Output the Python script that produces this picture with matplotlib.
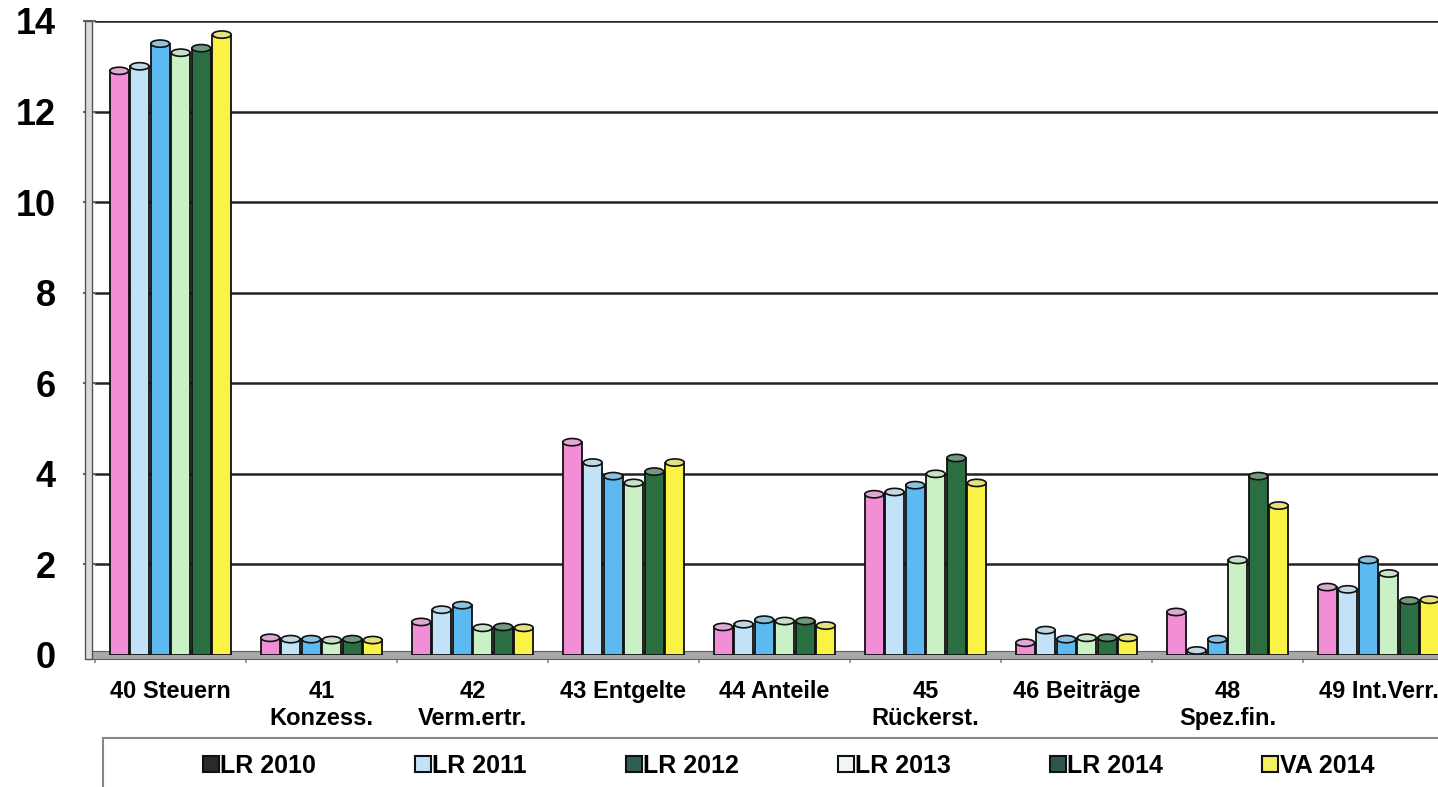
import matplotlib
matplotlib.use("Agg")
import matplotlib.pyplot as plt
from matplotlib.patches import Ellipse, Rectangle
from matplotlib.lines import Line2D
import matplotlib.colors as mcolors
import numpy as np

categories = ["40 Steuern", "41\nKonzess.", "42\nVerm.ertr.", "43 Entgelte", "44 Anteile",
              "45\nRückerst.", "46 Beiträge", "48\nSpez.fin.", "49 Int.Verr."]
series_names = ["LR 2010", "LR 2011", "LR 2012", "LR 2013", "LR 2014", "VA 2014"]
lr2010 = [12.9, 0.38, 0.73, 4.7, 0.62, 3.55, 0.27, 0.95, 1.5]
lr2011 = [13.0, 0.35, 1.0, 4.25, 0.68, 3.6, 0.55, 0.1, 1.45]
lr2012 = [13.5, 0.35, 1.1, 3.95, 0.78, 3.75, 0.35, 0.35, 2.1]
lr2013 = [13.3, 0.33, 0.6, 3.8, 0.75, 4.0, 0.38, 2.1, 1.8]
lr2014 = [13.4, 0.35, 0.62, 4.05, 0.75, 4.35, 0.38, 3.95, 1.2]
va2014 = [13.7, 0.33, 0.6, 4.25, 0.65, 3.8, 0.38, 3.3, 1.22]
yticks = [0, 2, 4, 6, 8, 10, 12, 14]

series = [lr2010, lr2011, lr2012, lr2013, lr2014, va2014]
bar_colors = ["#f28ed6", "#c2e2f8", "#5cbaf0", "#caf0c6", "#2b6e42", "#faf245"]
legend_colors = ["#2a2a2a", "#c2e2f8", "#2f5f55", "#eef8ee", "#2f5550", "#f4f060"]

plt.rcParams['font.family'] = ['Liberation Sans', 'DejaVu Sans']

W, H = 1438, 787
fig = plt.figure(figsize=(W / 100, H / 100), dpi=100)
left_px, right_px, y0_px, ytop_px = 95, 1454, 655, 21
ax = fig.add_axes([left_px / W, (H - y0_px) / H, (right_px - left_px) / W, (y0_px - ytop_px) / H])

n = len(categories)
x = np.arange(n)
pitch = 0.136
bw = 0.124
ell_h = 0.16

for i, (vals, col) in enumerate(zip(series, bar_colors)):
    xs = x + (i - 2.5) * pitch
    ax.bar(xs, vals, width=bw, color=col, edgecolor="#101010", linewidth=1.3, zorder=3)
    top_col = np.array(mcolors.to_rgb(col)) * 0.55 + np.array([0.78, 0.80, 0.80]) * 0.45
    for xi, v in zip(xs, vals):
        ax.add_patch(Ellipse((xi, v), bw, ell_h, facecolor=top_col, edgecolor="#101010",
                             linewidth=1.2, zorder=4))

ax.set_xlim(-0.5, n - 0.5)
ax.set_ylim(0, 14)
ax.set_yticks(yticks)
ax.set_yticklabels([str(t) for t in yticks], fontsize=26, fontweight='bold')
ax.tick_params(axis='y', length=0, pad=28)
ax.set_xticks(x)
ax.set_xticklabels(categories, fontsize=17, fontweight='bold', linespacing=1.2)
ax.set_xticks(np.arange(n + 1) - 0.5, minor=True)
ax.tick_params(axis='x', which='major', length=0, pad=18)
ax.tick_params(axis='x', which='minor', length=6, color="#888888", width=1.2)

for t in yticks[1:]:
    ax.axhline(t, color="#222222", linewidth=1.8, zorder=1)
    ax.plot([-0.575, -0.5], [t, t], color="#666666", linewidth=1.5, clip_on=False, zorder=1)

for s in ax.spines.values():
    s.set_visible(False)

# floor band
ax.add_patch(Rectangle((-0.56, -0.09), n + 0.1, 0.18, facecolor="#a8a8a8", edgecolor="#606060",
                       linewidth=0.8, clip_on=False, zorder=2))
# left wall
ax.add_patch(Rectangle((-0.565, -0.09), 0.045, 14.09, facecolor="#d8dcdc", edgecolor="#555555",
                       linewidth=1.0, clip_on=False, zorder=2))

# legend box
fig.patches.append(Rectangle((103 / W, -0.01), 1.0, (H - 738) / H + 0.01, transform=fig.transFigure,
                             facecolor="white", edgecolor="#888888", linewidth=1.5, zorder=0))
handles = [Line2D([0], [0], marker='s', linestyle='none', markersize=11.5, markerfacecolor=c,
                  markeredgecolor="#111111", markeredgewidth=1.5) for c in legend_colors]
fig.legend(handles, series_names, loc='center', bbox_to_anchor=(789 / W, (H - 766) / H), ncol=6,
           frameon=False, prop={'weight': 'bold', 'size': 18}, handlelength=0.55,
           handletextpad=0.1, columnspacing=4.0)

fig.savefig("out.png", dpi=100)
